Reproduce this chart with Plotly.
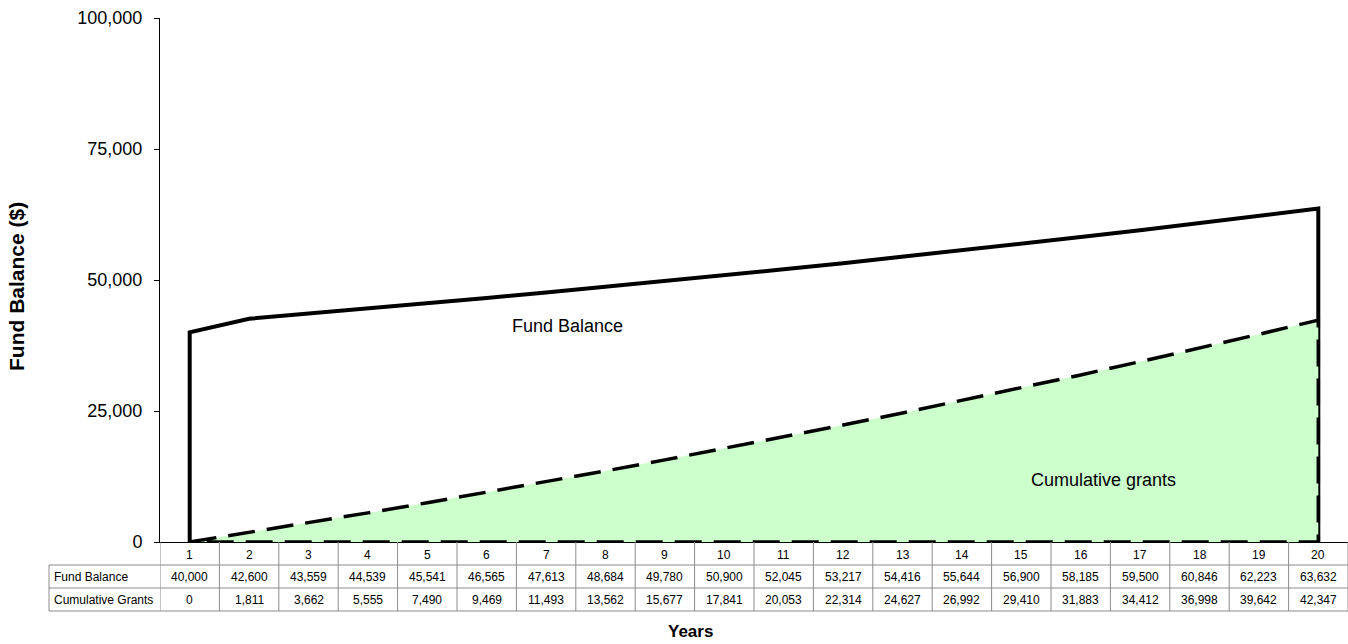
import plotly.graph_objects as go

years = list(range(1, 21))
fund_balance = [40000, 42600, 43559, 44539, 45541, 46565, 47613, 48684, 49780, 50900,
                52045, 53217, 54416, 55644, 56900, 58185, 59500, 60846, 62223, 63632]
cum_grants = [0, 1811, 3662, 5555, 7490, 9469, 11493, 13562, 15677, 17841,
              20053, 22314, 24627, 26992, 29410, 31883, 34412, 36998, 39642, 42347]
row_labels = ["Fund Balance", "Cumulative Grants"]
y_ticks = [0, 25000, 50000, 75000, 100000]

W, H = 1348, 644
ML, MR, MT, MB = 160, 0, 18, 102
PW = W - ML - MR
PH = H - MT - MB
FONT = "Liberation Sans, Arial, sans-serif"


def py(pix):
    """pixel y (from top) -> paper y"""
    return (H - MB - pix) / PH


def px(pix):
    return (pix - ML) / PW


fig = go.Figure()

# Fund balance closed outline
fig.add_trace(go.Scatter(
    x=[years[0]] + years + [years[-1], years[0]],
    y=[0] + fund_balance + [0, 0],
    mode="lines", line=dict(color="black", width=4),
    hoverinfo="skip", showlegend=False))

# Cumulative grants area
fig.add_trace(go.Scatter(
    x=years + [years[-1], years[0]],
    y=cum_grants + [0, 0],
    mode="lines", fill="toself", fillcolor="#CCFFCC",
    line=dict(color="black", width=3.5, dash="27px,12px"),
    hoverinfo="skip", showlegend=False))

shapes = []
annotations = []

row_top = [542, 565, 588]
row_bot = [565, 588, 611]
grid_col = "#8c8c8c"
tfont = dict(family=FONT, size=12, color="black")

for yy in [565, 588, 611]:
    shapes.append(dict(type="line", xref="paper", yref="paper",
                       x0=px(49), x1=1, y0=py(yy), y1=py(yy),
                       line=dict(color=grid_col, width=1)))
for i in range(len(years) + 1):
    xb = years[0] - 0.5 + i
    shapes.append(dict(type="line", xref="x", yref="paper",
                       x0=xb, x1=xb, y0=py(542), y1=py(611),
                       line=dict(color=grid_col, width=1)))
shapes.append(dict(type="line", xref="paper", yref="paper",
                   x0=px(49), x1=px(49), y0=py(565), y1=py(611),
                   line=dict(color=grid_col, width=1)))

for x in years:
    annotations.append(dict(x=x, y=py((row_top[0] + row_bot[0]) / 2 + 1), xref="x", yref="paper",
                            xanchor="center", yanchor="middle",
                            text=str(x), showarrow=False, font=tfont))
for r, vals in enumerate([fund_balance, cum_grants]):
    yc = py((row_top[r + 1] + row_bot[r + 1]) / 2)
    annotations.append(dict(x=px(52), y=yc, xref="paper", yref="paper",
                            xanchor="left", yanchor="middle",
                            text=row_labels[r], showarrow=False, font=tfont))
    for x, v in zip(years, vals):
        annotations.append(dict(x=x, y=yc, xref="x", yref="paper",
                                xanchor="center", yanchor="middle",
                                text=f"{v:,}", showarrow=False, font=tfont))

annotations.append(dict(x=px(567), y=py(326), xref="paper", yref="paper",
                        xanchor="center", yanchor="middle",
                        text="Fund Balance", showarrow=False,
                        font=dict(family=FONT, size=18, color="black")))
annotations.append(dict(x=px(1103), y=py(480), xref="paper", yref="paper",
                        xanchor="center", yanchor="middle",
                        text="Cumulative grants", showarrow=False,
                        font=dict(family=FONT, size=18, color="black")))
annotations.append(dict(x=px(17), y=py(287), xref="paper", yref="paper",
                        xanchor="center", yanchor="middle",
                        text="<b>Fund Balance ($)</b>", textangle=-90, showarrow=False,
                        font=dict(family=FONT, size=21, color="black")))
annotations.append(dict(x=px(690), y=py(631), xref="paper", yref="paper",
                        xanchor="center", yanchor="middle",
                        text="<b>Years</b>", showarrow=False,
                        font=dict(family=FONT, size=17, color="black")))

fig.update_layout(
    width=W, height=H,
    margin=dict(l=ML, r=MR, t=MT, b=MB),
    paper_bgcolor="white", plot_bgcolor="white",
    font=dict(family=FONT, color="black"),
    xaxis=dict(range=[0.5, 20.5], showgrid=False, zeroline=False,
               showticklabels=False, ticks="", showline=True,
               linecolor="black", linewidth=1),
    yaxis=dict(range=[0, 100000], tickvals=y_ticks, tickformat=",",
               showgrid=False, zeroline=False, showline=True,
               linecolor="black", linewidth=1, ticks="outside", ticklen=5,
               tickcolor="black", ticklabelstandoff=8,
               tickfont=dict(size=18, family=FONT)),
    shapes=shapes, annotations=annotations,
)

fig.write_html("out.html")
